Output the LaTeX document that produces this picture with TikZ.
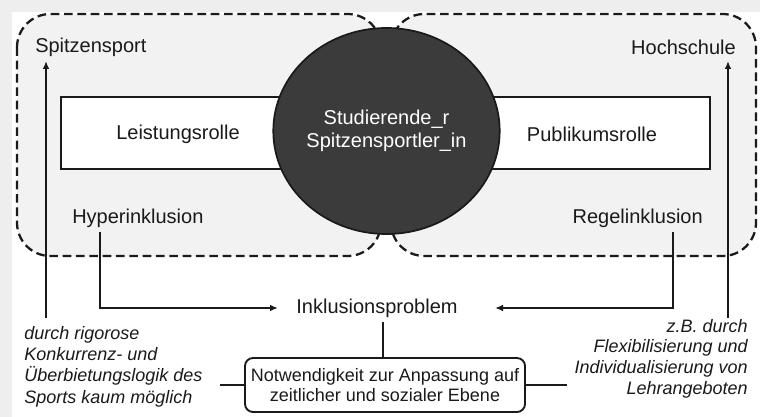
\documentclass[tikz,border=0pt]{standalone}
\usepackage{fontspec}
\setmainfont{Liberation Sans}
\usetikzlibrary{shapes.geometric,arrows.meta}
\definecolor{panel}{HTML}{F2F2F2}
\definecolor{frame}{HTML}{EEEEEE}
\definecolor{core}{HTML}{3B3B3B}
\definecolor{ink}{HTML}{1A1A1A}
\begin{document}
\begin{tikzpicture}[x=0.75pt,y=-0.75pt,
  lbl/.style={font=\fontsize{15}{18}\selectfont, text=ink, inner sep=0pt},
  note/.style={font=\fontsize{13.5}{16}\selectfont\itshape, text=ink, inner sep=0pt},
  sphere/.style={dash pattern=on 6.5pt off 3.5pt, line width=1.7pt, draw=ink, fill=panel, rounded corners=25pt},
  conn/.style={line width=1.4pt, draw=ink},
  arr/.style={conn, -{Latex[length=6pt,width=5pt]}}
]
\useasboundingbox (0,0) rectangle (760,417);
% page frame
\fill[frame] (0,0) rectangle (760,417);
\fill[white] (12,12) rectangle (760,417);

% the two systems
\draw[sphere] (17,14) rectangle (381,256);
\draw[sphere] (391,14) rectangle (756,256);

% role bar and the person in the middle
\node[draw=ink, line width=1.4pt, fill=white, minimum width=486.75pt, minimum height=54pt, inner sep=0pt] (roles) at (385.5,133) {};
\node[ellipse, fill=core, draw=ink, line width=1.3pt, minimum width=162.75pt, minimum height=154.5pt,
      inner sep=0pt, text=white, font=\fontsize{15}{17.25}\selectfont, align=center] (athlete) at (386.5,131)
      {Studierende\_r\\Spitzensportler\_in};

% labels
\node[lbl, anchor=west] (sport) at (35,47) {Spitzensport};
\node[lbl, anchor=east] (uni) at (736,47) {Hochschule};
\node[lbl] (perf) at (178,134) {Leistungsrolle};
\node[lbl] (aud) at (592,134) {Publikumsrolle};
\node[lbl, anchor=west] (hyper) at (72,218) {Hyperinklusion};
\node[lbl, anchor=east] (rule) at (703,218) {Regelinklusion};
\node[lbl] (problem) at (377,308) {Inklusionsproblem};

\node[draw=ink, line width=1.4pt, rounded corners=6pt, minimum width=210pt, minimum height=40.5pt,
      font=\fontsize{13.5}{14.5}\selectfont, text=ink, align=center, inner sep=0pt] (need) at (385,385)
      {Notwendigkeit zur Anpassung auf\\zeitlicher und sozialer Ebene};

\node[note, anchor=north west, align=left] (sportnote) at (24,326)
      {durch rigorose\\Konkurrenz- und\\Überbietungslogik des\\Sports kaum möglich};
\node[note, anchor=north east, align=right, font=\fontsize{13.5}{15.5}\selectfont\itshape] (uninote) at (748,319)
      {z.B. durch\\Flexibilisierung und\\Individualisierung von\\Lehrangeboten};

% connector ends
\coordinate (sportfoot) at (46,318);
\coordinate (sporttip) at (46,61);
\coordinate (unifoot) at (728,318);
\coordinate (unitip) at (728,61);
\coordinate (hyperfoot) at (100,232);
\coordinate (rulefoot) at (673,232);
\coordinate (probin) at (278,308);
\coordinate (probout) at (495,308);
\coordinate (probfoot) at (383,322);
\coordinate (sportlink) at (220,385);
\coordinate (unilink) at (567,385);

% connectors
\draw[arr] (sportfoot) -- (sporttip);
\draw[arr] (unifoot) -- (unitip);
\draw[arr] (hyperfoot) |- (probin);
\draw[arr] (rulefoot) |- (probout);
\draw[conn] (probfoot) -- (probfoot |- need.north);
\draw[conn] (sportlink) -- (need.west);
\draw[conn] (need.east) -- (unilink);
\end{tikzpicture}
\end{document}
